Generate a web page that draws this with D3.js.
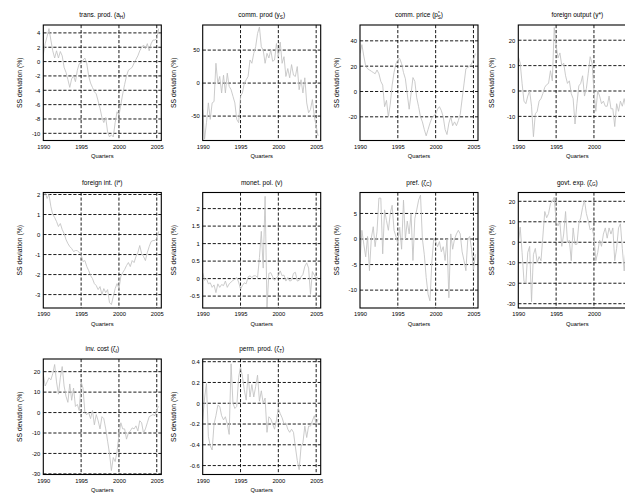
<!DOCTYPE html>
<html><head><meta charset="utf-8">
<script src="https://cdn.jsdelivr.net/npm/d3@7"></script>
<style>
body{margin:0;background:#fff}
svg{display:block;background:#fff}
text{font-family:"Liberation Sans",Arial,Helvetica,sans-serif;fill:#000}
</style>
</head><body><svg id="c" width="625" height="496"></svg>
<script>
// ---- data (quarterly, starting 1990Q1) ----
const startYear = 1990;
const xTickYears = [1990, 1995, 2000, 2005];

const transProd = [1.0,2.5,3.5,4.6,3.0,1.5,0.5,1.5,0.5,1.4,0.8,-0.8,-1.5,-2.5,-3.6,-2.4,-2.0,-2.8,-1.2,-0.3,-0.2,0.2,0.5,-0.3,-2.0,-3.0,-3.6,-4.2,-4.5,-5.5,-6.5,-7.8,-8.5,-7.8,-9.8,-10.5,-10.2,-10.5,-8.5,-7.0,-7.5,-6.0,-4.5,-3.2,-2.0,-1.2,-1.0,-0.8,-0.2,0.3,0.8,1.5,2.0,2.3,1.8,2.5,1.5,2.5,3.0,3.0,3.2,4.6];
const commProd = [-40,-85,-60,-30,-55,-30,-28,30,0,10,-15,12,-15,15,-5,-10,-20,-30,-55,-60,-20,-15,0,5,10,35,30,45,55,75,85,55,50,30,45,38,50,33,35,60,40,62,30,40,10,22,8,28,12,10,25,-10,5,-15,8,-30,-45,-40,-25,-50,-65,-80];
const commPrice = [30,37,28,20,18,17,16,15,14,17,14,8,5,-12,-7,-20,-10,5,15,22,25,26,22,15,10,-2,-14,-2,11,8,-5,-12,-20,-24,-30,-35,-30,-25,-21,-19,-18,-14,-12,-15,-20,-30,-34,-25,-20,-27,-24,-27,-23,-18,-6,6,18,19,20,22,25,30];
const foreignOutput = [13.5,11,3,-4,-5,-2,0,-6,-18,-9,-8,-4,-3,-1,1.5,2.5,3,8,4,25,18,13,15,10,11,6,3,4,-1,-3,-13,-5,2,3,6,-2,1,7,13.5,11,0,-8,0,-2,-5,-4,-6,-6,-2,-7,-7,-14,-5,-8,-4,-6,-3,-7,-5,-3,-6,-4];
const foreignInt = [1.9,2.1,1.8,2.0,1.4,1.0,0.85,0.65,0.4,0.55,0.25,0.05,-0.25,-0.45,-0.6,-0.7,-0.85,-0.8,-0.8,-0.9,-1.0,-1.35,-1.3,-1.6,-1.8,-2.05,-2.2,-2.45,-2.55,-2.75,-2.6,-3.0,-2.7,-2.9,-2.75,-3.4,-3.5,-3.1,-2.7,-2.45,-2.7,-2.1,-1.9,-1.75,-1.55,-1.4,-1.6,-1.3,-1.4,-1.1,-0.9,-0.55,-0.95,-1.1,-1.3,-0.9,-0.6,-0.35,-0.3,-0.3,-0.2,0.15];
const monetPol = [0.17,-0.05,0.0,-0.15,-0.12,-0.25,-0.18,-0.4,-0.15,-0.25,-0.17,-0.2,-0.07,-0.25,-0.15,-0.1,-0.05,-0.02,0.03,-0.1,-0.3,-0.2,-0.12,-0.15,0.05,0.08,0.03,0.08,0.08,0.03,0.6,1.35,0.3,2.35,-0.82,0.15,0.17,0.05,-0.05,0.03,0.08,0.22,0.08,0.1,-0.07,0.03,-0.07,-0.05,0.15,0.18,-0.07,-0.05,0.05,0.12,0.35,0.45,0.3,-0.45,0.2,0.1,0.0,0.05];
const pref = [-4.5,1.7,-1.0,-3.5,0.5,-6.2,0.2,2.4,-1.5,1.5,8.0,8.0,-2.9,5.7,3.6,1.7,5.0,6.6,1.7,0.5,-0.9,2.3,-2.0,7.6,0.0,3.5,1.0,5.0,-4.2,4.0,5.7,7.6,8.6,0.0,-3.0,-7.5,-10.8,-12.1,-4.5,0.2,-0.5,-1.5,-0.5,-2.5,-1.5,-4.2,0.0,-11.5,1.0,-2.0,0.0,1.0,1.7,1.0,-2.5,-4.2,-6.2,0.0,0.5,-2.0,-6.0,-3.0];
const govtExp = [-1,7.4,-5,-19,-20,-5,-2,-29,-6,-3,-10,-7,-9,3,15,12,14,18.9,20,22,10,8,10,-2,4,15,0,1,-9,7,-1,-1,9,12,17,20.5,14,10.5,6,7,3,-9,-5,1,-2,4,7,2,7,4,7,-9,-3,7,9,-3,-14,-2,-5,-8,-3,-6];
const invCost = [18.7,13,15,17,16,19,23.5,15,9,17,22.5,13,8,5,14,6,12,3,4,1,15,12,0,-1,0,-3,1,-6,-1,-4,-8,-2,-3,-8,-14,-20,-28.4,-22,-24,-19,-11,-5,-8,-8,-13,-10,-9,-7.5,-8,-6.5,-9,-4,-5,-10,-8,-5,-2,-1.5,-1,-1.5,1.5,3];
const permProd = [-0.16,0.05,0.19,-0.32,-0.41,-0.45,-0.2,-0.12,-0.02,-0.03,-0.12,-0.16,-0.13,-0.2,-0.3,0.38,0.0,-0.05,-0.03,0.25,0.35,0.26,0.13,0.03,0.28,0.06,0.18,0.06,0.16,0.27,0.02,0.12,0.0,0.05,-0.28,-0.13,-0.15,-0.2,-0.25,-0.16,-0.05,-0.1,-0.14,-0.2,-0.19,-0.25,-0.28,-0.25,-0.28,-0.42,-0.55,-0.64,-0.42,-0.38,-0.22,-0.33,-0.22,-0.22,-0.17,-0.12,-0.2,-0.15];

const seriesList = [transProd, commProd, commPrice, foreignOutput, foreignInt, monetPol, pref, govtExp, invCost, permProd];

const panelTitles = [
  [["trans. prod. (a"],["H","sub"],[")"]],
  [["comm. prod (y"],["S","sub"],[")"]],
  [["comm. price (p"],["*","sup"],["S","subb"],[")"]],
  [["foreign output (y*)"]],
  [["foreign int. (i*)"]],
  [["monet. pol. (v)"]],
  [["pref. (\u03B6"],["C","sub"],[")"]],
  [["govt. exp. (\u03B6"],["G","sub"],[")"]],
  [["inv. cost (\u03B6"],["I","sub"],[")"]],
  [["perm. prod. (\u03B6"],["T","sub"],[")"]]
];
const yLabel = "SS deviation (%)";
const xLabel = "Quarters";

const yTickValues = [
  [4,2,0,-2,-4,-6,-8,-10],
  [50,0,-50],
  [40,20,0,-20],
  [20,10,0,-10],
  [2,1,0,-1,-2,-3],
  [2,1.5,1,0.5,0,-0.5],
  [5,0,-5,-10],
  [20,10,0,-10,-20,-30],
  [20,10,0,-10,-20,-30],
  [0.4,0.2,0,-0.2,-0.4,-0.6]
];
const yDomains = [
  [-11,5.1],[-87,88],[-38.7,52.5],[-19.5,26],
  [-3.67,2.1],[-0.84,2.46],[-13.5,9.1],[-32.1,24.3],
  [-30.3,26.2],[-0.686,0.426]
];
const xDomain = [1990, 2005.6];

// ---- layout ----
const colX = [43.3, 202.7, 360, 518.3];
const rowY = [25, 192.5, 359];
const W = 118, H = 115.5;
const yLabOff = [21.5, 27, 21, 24];

const svg = d3.select("#c");
const defs = svg.append("defs");

seriesList.forEach((vals, k) => {
  const col = k % 4, row = Math.floor(k / 4);
  const g = svg.append("g").attr("transform", `translate(${colX[col]},${rowY[row]})`);
  const x = d3.scaleLinear().domain(xDomain).range([0, W]);
  const y = d3.scaleLinear().domain(yDomains[k]).range([H, 0]);

  defs.append("clipPath").attr("id", "cp" + k)
    .append("rect").attr("width", W).attr("height", H);

  // grid
  const grid = g.append("g").attr("stroke", "#000").attr("stroke-width", 0.9)
    .attr("stroke-dasharray", "3.2,1.8");
  xTickYears.filter(t => t > xDomain[0]).forEach(t => {
    grid.append("line").attr("x1", x(t)).attr("x2", x(t)).attr("y1", 0).attr("y2", H);
  });
  yTickValues[k].forEach(t => {
    grid.append("line").attr("x1", 0).attr("x2", W).attr("y1", y(t)).attr("y2", y(t));
  });

  // data line
  const line = d3.line().x((d, i) => x(startYear + i / 4)).y(d => y(d));
  g.append("path").datum(vals).attr("d", line)
    .attr("fill", "none").attr("stroke", "#c2c2c2").attr("stroke-width", 0.85)
    .attr("clip-path", `url(#cp${k})`);

  // box
  g.append("rect").attr("width", W).attr("height", H)
    .attr("fill", "none").attr("stroke", "#000").attr("stroke-width", 1.1);

  // axes (tick labels only)
  const xa = g.append("g").attr("transform", `translate(0,${H})`)
    .call(d3.axisBottom(x).tickValues(xTickYears).tickSize(0).tickPadding(4).tickFormat(d3.format("d")));
  const ya = g.append("g")
    .call(d3.axisLeft(y).tickValues(yTickValues[k]).tickSize(0).tickPadding(3).tickFormat(v => String(v)));
  [xa, ya].forEach(a => {
    a.select(".domain").remove();
    a.selectAll("text").attr("font-size", 5.8).attr("fill", "#000")
      .attr("font-family", '"Liberation Sans",Arial,sans-serif');
  });

  // title
  const tt = g.append("text").attr("x", W / 2).attr("y", -8).attr("text-anchor", "middle")
    .attr("font-size", 6.5).attr("fill", "#000");
  panelTitles[k].forEach(p => {
    const ts = tt.append("tspan").text(p[0]);
    if (p[1] === "sub") ts.attr("font-size", 4.6).attr("dy", 1.6);
    if (p[1] === "sup") ts.attr("font-size", 4.6).attr("dy", -2.2);
    if (p[1] === "subb") ts.attr("font-size", 4.6).attr("dy", 3.8).attr("dx", -2);
  });
  tt.selectAll("tspan").each(function(d, i) {
    const p = panelTitles[k][i];
    if (!p[1] && i > 0) {
      const prev = panelTitles[k][i - 1];
      const back = (prev[1] === "sub" || prev[1] === "subb") ? -1.6 : prev[1] === "sup" ? 2.2 : 0;
      d3.select(this).attr("dy", back);
    }
  });

  // x label
  g.append("text").attr("x", W / 2).attr("y", H + 17.5).attr("text-anchor", "middle")
    .attr("font-size", 5.8).text(xLabel);

  // y label
  g.append("text").attr("transform", `translate(${-yLabOff[col]},${H / 2}) rotate(-90)`)
    .attr("text-anchor", "middle").attr("font-size", 6.8).text(yLabel);
});
</script>
</body></html>
